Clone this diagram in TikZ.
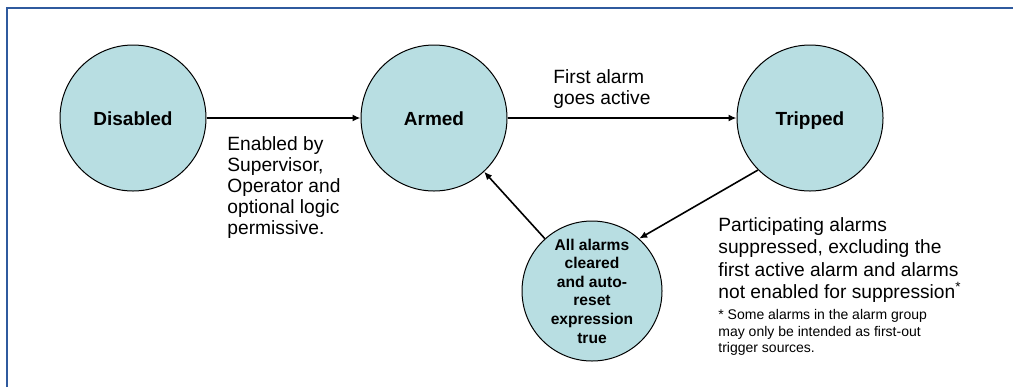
\documentclass[tikz,border=0pt]{standalone}
\usepackage{fontspec}
\setmainfont{Liberation Sans}
\usepackage{tikz}
\usetikzlibrary{positioning, arrows.meta}
\definecolor{statefill}{RGB}{184,222,226}
\definecolor{framecol}{RGB}{47,90,158}
\tikzset{
    state/.style={draw, circle, fill=statefill, line width=0.5pt,
      minimum size=73pt, inner sep=0pt, font=\bfseries\fontsize{9.5}{11}\selectfont},
    single/.style={text height=1.6ex, text depth=0.2ex},
    resetstate/.style={minimum size=70pt, align=center,
      font=\bfseries\fontsize{7.8}{9.3}\selectfont},
    cond/.style={align=left, anchor=north west, inner sep=0pt,
      font=\fontsize{9.6}{10.5}\selectfont},
    bigcond/.style={cond, font=\fontsize{9.6}{11.2}\selectfont},
    note/.style={cond, font=\fontsize{7}{8.3}\selectfont},
    trans/.style={-{Latex[length=4pt,width=3.5pt]}, line width=0.8pt},
    frame/.style={draw=framecol, line width=1pt} }

\begin{document}
\begin{tikzpicture}[x=0.5pt, y=-0.5pt]
      \useasboundingbox (0,0) rectangle (1016,387);
      \draw[frame] (7,387) -- (7,8) -- (1013,8);
      % ----
      \node[state, single] (disabled) at (133,118) {Disabled};
      \node[state, single, right = 77pt of disabled] (armed) {Armed};
      \node[state, single, right = 114.5pt of armed] (tripped) {Tripped};
      \node[state, resetstate] (reset) at (592,291)
          {All alarms\\cleared\\and auto-\\reset\\expression\\true};
      % ----
      \draw[trans] (disabled) -- (armed);
      \draw[trans] (armed) -- (tripped);
      \draw[trans] (tripped.225) -- (reset.48);
      \draw[trans] (reset.132) -- (armed.-47);
      % ----
      \node[cond] (enabled) at (227,136)
          {Enabled by\\Supervisor,\\Operator and\\optional logic\\permissive.};
      \node[cond] (first) at (553,69) {First alarm\\goes active};
      \node[bigcond] (partic) at (718,217)
          {Participating alarms\\suppressed, excluding the\\first active alarm and alarms\\not enabled for suppression\textsuperscript{*}};
      \node[note, below = 3pt of partic.south west, anchor=north west] (footnote)
          {* Some alarms in the alarm group\\may only be intended as first-out\\trigger sources.};
\end{tikzpicture}
\end{document}
